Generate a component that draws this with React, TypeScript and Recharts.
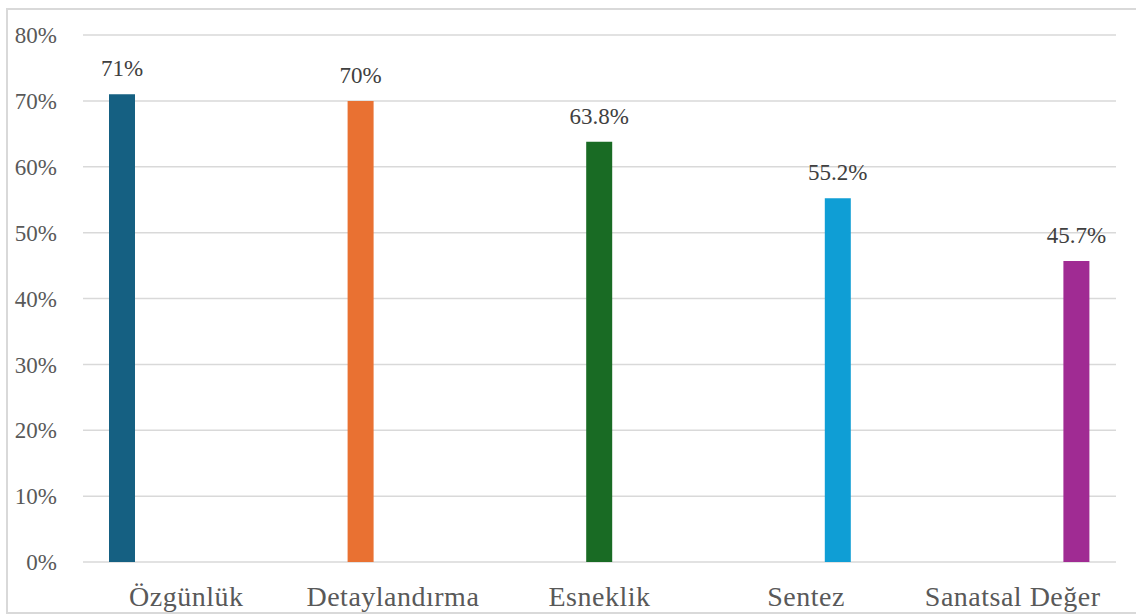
import React from "react";
import { BarChart, Bar, XAxis, YAxis, CartesianGrid, LabelList } from "recharts";

const categories = ["Özgünlük", "Detaylandırma", "Esneklik", "Sentez", "Sanatsal Değer"];
const values = [71, 70, 63.8, 55.2, 45.7];
const colors = ["#156082", "#E97132", "#196B24", "#0F9ED5", "#A02B93"];
const yTicks = [0, 10, 20, 30, 40, 50, 60, 70, 80];

// one series per category, each only filled in its own category (Excel-style clustered layout)
const seriesKeys = categories.map((_, i) => `s${i}`);
const chartData = categories.map((name, i) => {
  const row: Record<string, string | number | null> = { name };
  seriesKeys.forEach((k, j) => {
    row[k] = j === i ? values[i] : null;
  });
  return row;
});

const FONT = "'Liberation Serif', 'Times New Roman', serif";

const App: React.FC = () => {
  return (
    <div
      style={{
        position: "fixed",
        left: 6,
        top: 8,
        width: 1130,
        height: 606,
        boxSizing: "border-box",
        borderTop: "2px solid #d9d9d9",
        borderLeft: "2px solid #d9d9d9",
        borderBottom: "2px solid #d9d9d9",
        background: "#fff",
        fontFamily: FONT,
      }}
    >
      <BarChart
        width={1128}
        height={602}
        data={chartData}
        margin={{ top: 25, right: 20, left: 0, bottom: 0 }}
        barGap={6}
        style={{ fontFamily: FONT }}
      >
        <CartesianGrid vertical={false} stroke="#d9d9d9" strokeWidth={1.5} />
        <XAxis
          dataKey="name"
          axisLine={false}
          tickLine={false}
          tickSize={0}
          tickMargin={24}
          height={50}
          interval={0}
          tick={{ fill: "#595959", fontSize: 28, fontFamily: FONT, letterSpacing: 0.5 }}
        />
        <YAxis
          domain={[0, 80]}
          ticks={yTicks}
          width={75}
          axisLine={false}
          tickLine={false}
          tickSize={0}
          tickMargin={26}
          tickFormatter={(v: number) => `${v}%`}
          tick={{ fill: "#595959", fontSize: 23, fontFamily: FONT }}
        />
        {seriesKeys.map((k, i) => (
          <Bar key={k} dataKey={k} fill={colors[i]} barSize={26} isAnimationActive={false}>
            <LabelList
              dataKey={k}
              position="top"
              offset={18}
              formatter={(v: any) => (v == null ? "" : `${v}%`)}
              style={{ fill: "#404040", fontSize: 23, fontFamily: FONT }}
            />
          </Bar>
        ))}
      </BarChart>
    </div>
  );
};

export default App;
